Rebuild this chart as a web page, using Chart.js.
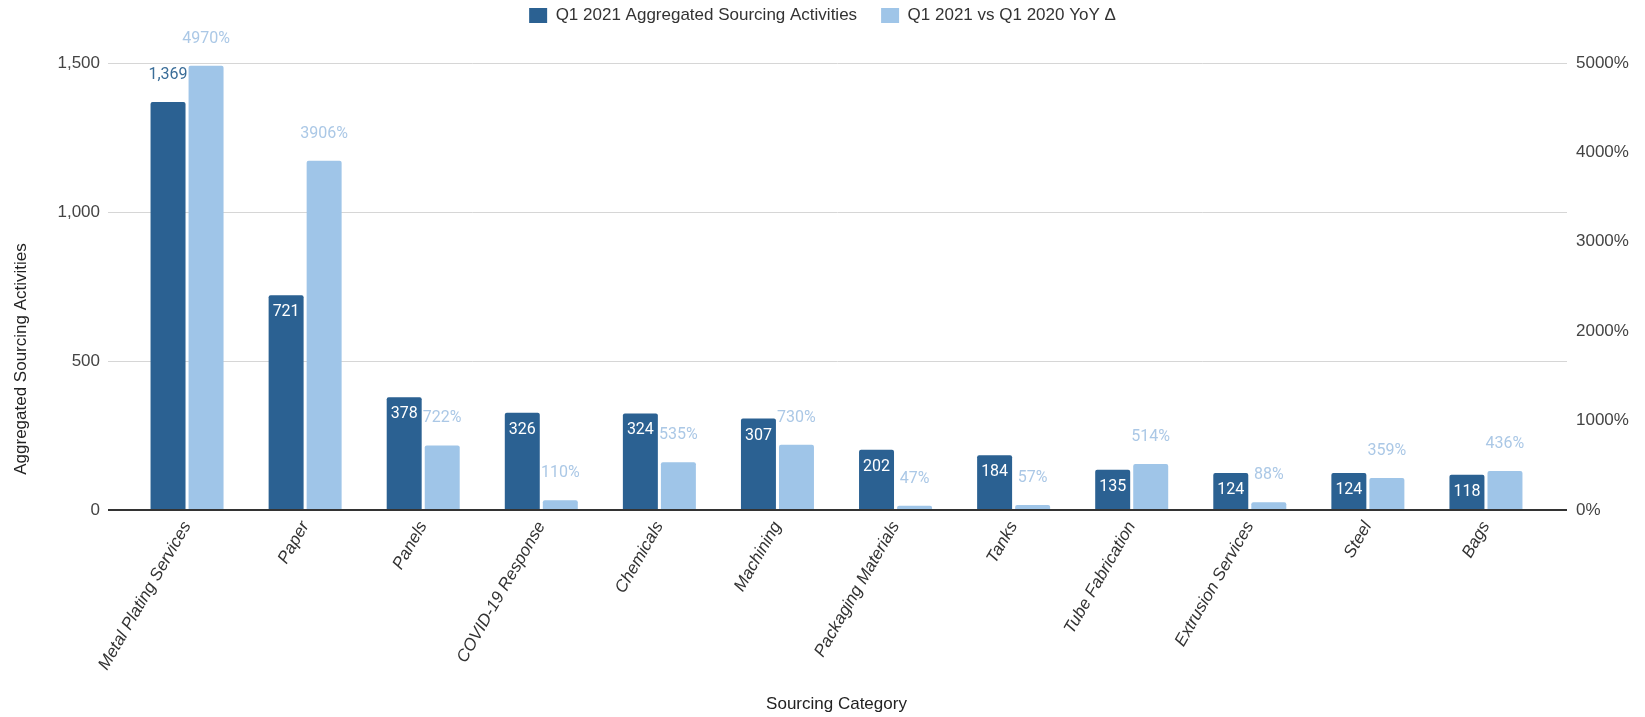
<!DOCTYPE html>
<html>
<head>
<meta charset="utf-8">
<script src="https://cdn.jsdelivr.net/npm/chart.js@4.4.1/dist/chart.umd.min.js"></script>
<style>
  html, body { margin: 0; padding: 0; background: #fff; }
  #wrap { width: 1645px; height: 717px; }
</style>
</head>
<body>
<div id="wrap"><canvas id="chart" width="1645" height="717"></canvas></div>
<script>
const categories = [
    "Metal Plating Services", "Paper", "Panels", "COVID-19 Response", "Chemicals", "Machining",
    "Packaging Materials", "Tanks", "Tube Fabrication", "Extrusion Services", "Steel", "Bags"
];
const activities = [1369, 721, 378, 326, 324, 307, 202, 184, 135, 124, 124, 118];
const yoyDelta   = [4970, 3906, 722, 110, 535, 730, 47, 57, 514, 88, 359, 436];

const activityTicks = [0, 500, 1000, 1500];
const yoyTicks      = [0, 1000, 2000, 3000, 4000, 5000];

const darkBlue  = "#2b6192";
const lightBlue = "#9fc5e8";
const axisFont  = "'Liberation Sans', Arial, sans-serif";
const valueFont = "Roboto, 'Liberation Sans', sans-serif";

// espaço extra entre a legenda e o gráfico
const legendSpace = {
    id: "legendSpace",
    beforeInit(chart) {
        const fit = chart.legend.fit;
        chart.legend.fit = function () {
            fit.bind(chart.legend)();
            this.height += 29;
        };
    }
};

// linhas de grade mais largas que a área do gráfico, e linha de base
const gridLines = {
    id: "gridLines",
    beforeDatasetsDraw(chart) {
        const { ctx, chartArea, scales } = chart;
        const left = chartArea.left - 20, right = chartArea.right + 22;
        ctx.save();
        ctx.strokeStyle = "#d6d6d6";
        ctx.lineWidth = 1;
        scales.y.ticks.forEach(t => {
            if (t.value === 0) return;
            const y = Math.round(scales.y.getPixelForValue(t.value)) + 0.5;
            ctx.beginPath(); ctx.moveTo(left, y); ctx.lineTo(right, y); ctx.stroke();
        });
        ctx.restore();
    },
    afterDatasetsDraw(chart) {
        const { ctx, chartArea, scales } = chart;
        const y = Math.round(scales.y.getPixelForValue(0));
        ctx.save();
        ctx.strokeStyle = "#333";
        ctx.lineWidth = 2;
        ctx.beginPath(); ctx.moveTo(chartArea.left - 20, y); ctx.lineTo(chartArea.right + 22, y); ctx.stroke();
        ctx.restore();
    }
};

// rótulos de valor nas barras
const barLabels = {
    id: "barLabels",
    afterDatasetsDraw(chart) {
        const { ctx } = chart;
        const yMax = chart.scales.y.max;
        ctx.save();
        ctx.font = "16px " + valueFont;
        ctx.textAlign = "center";
        ctx.textBaseline = "middle";
        chart.getDatasetMeta(0).data.forEach((bar, i) => {
            const v = activities[i];
            const text = v.toLocaleString("en-US");
            if (v > yMax * 0.85) {
                ctx.fillStyle = "#3a6d98";
                ctx.fillText(text, bar.x, bar.y - 27);
            } else {
                ctx.fillStyle = "#ffffff";
                ctx.fillText(text, bar.x, bar.y + 17);
            }
        });
        ctx.fillStyle = "#abc8e6";
        chart.getDatasetMeta(1).data.forEach((bar, i) => {
            ctx.fillText(yoyDelta[i] + "%", bar.x, bar.y - 27);
        });
        ctx.restore();
    }
};

// título do eixo esquerdo
const leftTitle = {
    id: "leftTitle",
    afterDraw(chart) {
        const { ctx } = chart;
        ctx.save();
        ctx.translate(21, 359);
        ctx.rotate(-Math.PI / 2);
        ctx.font = "17px " + axisFont;
        ctx.fillStyle = "#222";
        ctx.textAlign = "center";
        ctx.textBaseline = "middle";
        ctx.fillText("Aggregated Sourcing Activities", 0, 0);
        ctx.restore();
    }
};

new Chart(document.getElementById("chart"), {
    type: "bar",
    data: {
        labels: categories,
        datasets: [{
            label: "Q1 2021 Aggregated Sourcing Activities",
            data: activities,
            backgroundColor: darkBlue,
            yAxisID: "y",
            categoryPercentage: 0.644,
            barPercentage: 0.92,
            borderRadius: 2
        }, {
            label: "Q1 2021 vs Q1 2020 YoY Δ",
            data: yoyDelta,
            backgroundColor: lightBlue,
            yAxisID: "y1",
            categoryPercentage: 0.644,
            barPercentage: 0.92,
            borderRadius: 2
        }]
    },
    options: {
        responsive: false,
        animation: false,
        layout: { padding: { top: -17, left: 0, right: 0, bottom: 0 } },
        plugins: {
            legend: {
                position: "top",
                labels: {
                    boxWidth: 18,
                    boxHeight: 15,
                    padding: 24,
                    color: "#333",
                    font: { family: axisFont, size: 17 }
                }
            },
            tooltip: { enabled: false }
        },
        scales: {
            x: {
                grid: { display: false, drawTicks: false },
                border: { display: false },
                ticks: {
                    autoSkip: false,
                    minRotation: 60,
                    maxRotation: 60,
                    padding: 8,
                    color: "#333",
                    font: { family: axisFont, size: 17, style: "italic" }
                },
                title: {
                    display: true,
                    text: "Sourcing Category",
                    color: "#222",
                    font: { family: axisFont, size: 17 },
                    padding: { top: 0, bottom: 2 }
                },
                afterFit(s) { s.height = 207; }
            },
            y: {
                position: "left",
                min: 0,
                max: 1500,
                afterBuildTicks(s) { s.ticks = activityTicks.map(v => ({ value: v })); },
                grid: { display: false, drawTicks: false },
                border: { display: false },
                ticks: { padding: 28, color: "#444", font: { family: axisFont, size: 17 } },
                afterFit(s) { s.width = 128; }
            },
            y1: {
                position: "right",
                min: 0,
                max: 5000,
                afterBuildTicks(s) { s.ticks = yoyTicks.map(v => ({ value: v })); },
                grid: { display: false, drawTicks: false },
                border: { display: false },
                ticks: {
                    padding: 31,
                    color: "#444",
                    font: { family: axisFont, size: 17 },
                    callback: v => v + "%"
                },
                afterFit(s) { s.width = 100; }
            }
        }
    },
    plugins: [legendSpace, gridLines, barLabels, leftTitle]
});
</script>
</body>
</html>
